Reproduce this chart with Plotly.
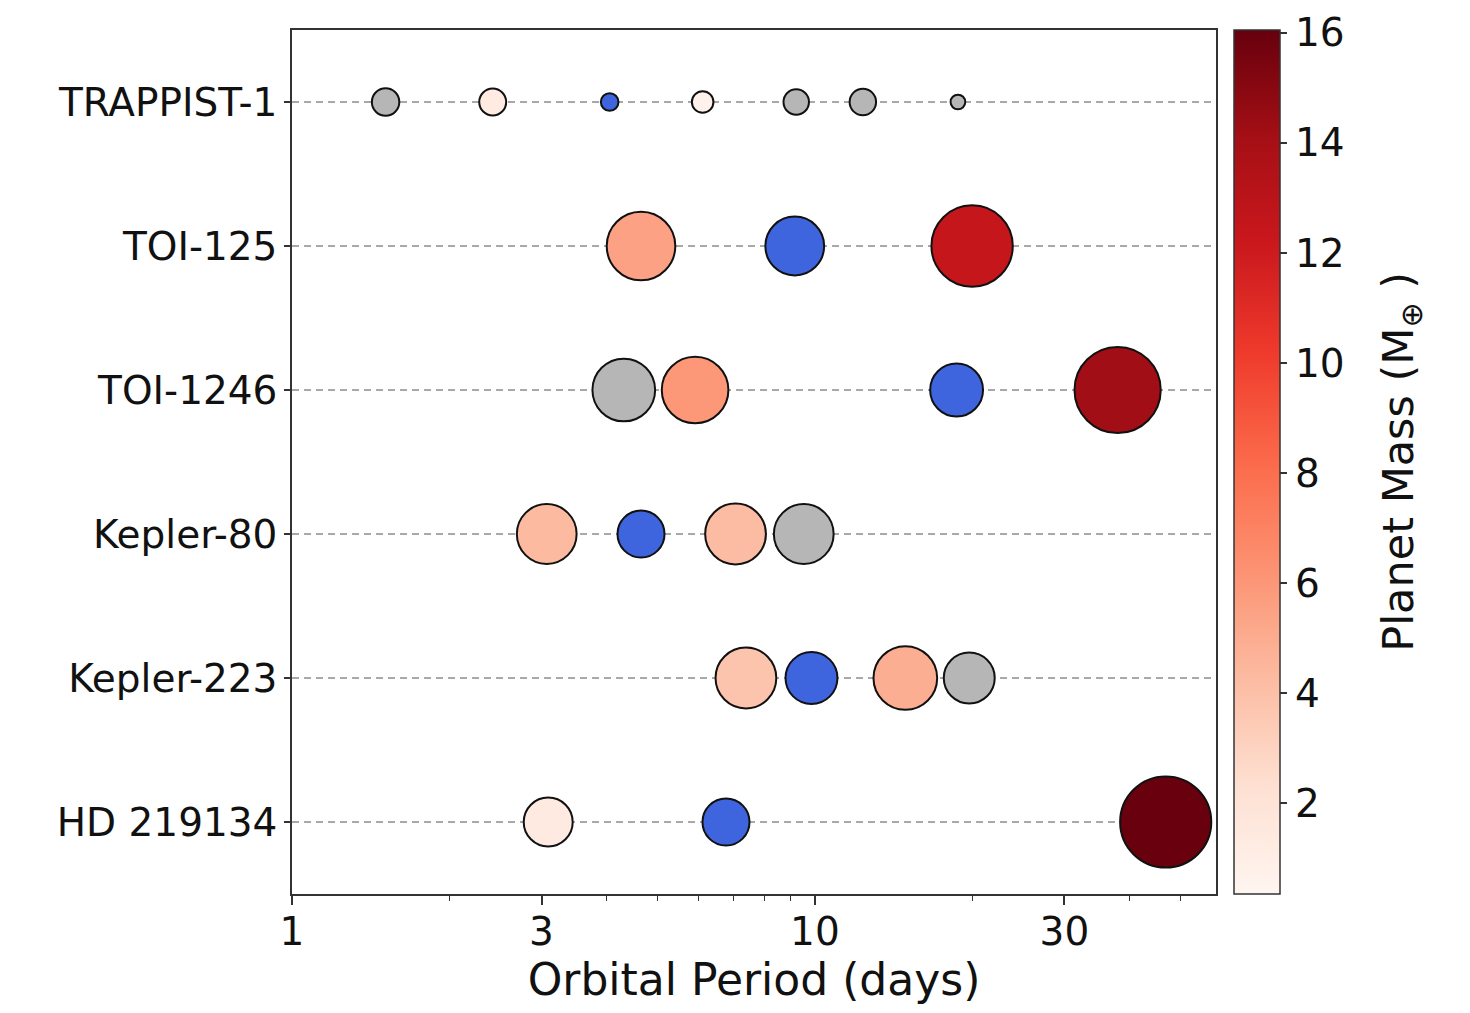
import plotly.graph_objects as go

# ---- data ----
systems = ["TRAPPIST-1", "TOI-125", "TOI-1246", "Kepler-80", "Kepler-223", "HD 219134"]

planet_system = (["TRAPPIST-1"] * 7 + ["TOI-125"] * 3 + ["TOI-1246"] * 4 +
                 ["Kepler-80"] * 4 + ["Kepler-223"] * 4 + ["HD 219134"] * 3)
period_days = [1.51, 2.42, 4.05, 6.10, 9.21, 12.35, 18.77,
               4.65, 9.15, 19.98,
               4.31, 5.90, 18.66, 37.92,
               3.07, 4.65, 7.05, 9.52,
               7.38, 9.85, 14.89, 19.73,
               3.09, 6.76, 46.86]
radius_earth = [1.12, 1.10, 0.72, 0.88, 1.04, 1.08, 0.60,
                2.80, 2.40, 3.32,
                2.56, 2.72, 2.16, 3.52,
                2.44, 1.92, 2.48, 2.44,
                2.48, 2.12, 2.60, 2.08,
                2.00, 1.92, 3.72]
mass_earth = [None, 1.3, None, 0.7, None, None, None,
              5.5, None, 12.5,
              None, 6.0, None, 14.2,
              4.3, None, 4.2, None,
              3.8, None, 4.9, None,
              1.4, None, 16.0]
# "hatched" = grey hatched marker, "blue" = blue marker, "mass" = coloured by mass
planet_kind = ["hatched", "mass", "blue", "mass", "hatched", "hatched", "hatched",
               "mass", "blue", "mass",
               "hatched", "mass", "blue", "mass",
               "mass", "blue", "mass", "hatched",
               "mass", "blue", "mass", "hatched",
               "mass", "blue", "mass"]

cbar_ticks = [2, 4, 6, 8, 10, 12, 14, 16]
x_ticks = [1, 3, 10, 30]
x_minor = [2, 4, 5, 6, 7, 8, 9, 20, 40, 50]

# ---- style ----
PX_PER_RADIUS = 24.5
FONT = "DejaVu Sans"
reds_mpl = [[0.0, "#fff5f0"], [0.125, "#fee0d2"], [0.25, "#fcbba1"], [0.375, "#fc9272"],
            [0.5, "#fb6a4a"], [0.625, "#ef3b2c"], [0.75, "#cb181d"], [0.875, "#a50f15"],
            [1.0, "#67000d"]]
EDGE = dict(color="#111111", width=2)


def subset(kind):
    idx = [i for i, k in enumerate(planet_kind) if k == kind]
    return ([period_days[i] for i in idx], [planet_system[i] for i in idx],
            [radius_earth[i] * PX_PER_RADIUS for i in idx], [mass_earth[i] for i in idx])


fig = go.Figure()

x, y, s, _ = subset("hatched")
fig.add_trace(go.Scatter(x=x, y=y, mode="markers", showlegend=False,
                         marker=dict(size=s, color="#b6b6b6", opacity=1, line=EDGE)))

x, y, s, _ = subset("blue")
fig.add_trace(go.Scatter(x=x, y=y, mode="markers", showlegend=False,
                         marker=dict(size=s, color="#3e65dd", opacity=1, line=EDGE)))

x, y, s, m = subset("mass")
fig.add_trace(go.Scatter(
    x=x, y=y, mode="markers", showlegend=False,
    marker=dict(size=s, color=m, colorscale=reds_mpl, cmin=0.35, cmax=16.05,
                opacity=1, line=EDGE,
                showscale=True,
                colorbar=dict(
                    x=1.0195, xanchor="left", xpad=0, y=0.5, yanchor="middle",
                    len=1, lenmode="fraction", ypad=0, thickness=46,
                    outlinecolor="#333333", outlinewidth=1.5,
                    tickvals=cbar_ticks, ticks="outside", ticklen=7, tickwidth=1.5,
                    tickcolor="#333333",
                    tickfont=dict(family=FONT, size=39, color="#111111"),
                ))))

# colour bar title
fig.add_annotation(
    text="Planet Mass (M<sub>⊕</sub> )", textangle=-90,
    xref="paper", yref="paper", x=1.2, y=0.5, xanchor="center", yanchor="middle",
    showarrow=False, font=dict(family=FONT, size=43, color="#111111"),
)

fig.update_xaxes(
    type="log", range=[0, 1.767],
    tickvals=x_ticks, ticktext=[str(v) for v in x_ticks],
    ticks="outside", ticklen=9, tickwidth=1.5, tickcolor="#333333",
    minor=dict(tickvals=x_minor, ticks="outside", ticklen=5, tickwidth=1, tickcolor="#333333"),
    showgrid=False, zeroline=False,
    showline=True, linecolor="#333333", linewidth=1.5, mirror=True,
    tickfont=dict(family=FONT, size=39, color="#111111"),
    ticklabelstandoff=-7,
    title=dict(text="Orbital Period (days)", standoff=8,
               font=dict(family=FONT, size=44, color="#111111")),
)
fig.update_yaxes(
    type="category", categoryorder="array", categoryarray=systems,
    range=[5.5, -0.5],
    ticks="outside", ticklen=6, tickwidth=1.5, tickcolor="#333333",
    showgrid=True, gridcolor="#a8a8a8", gridwidth=1.8, griddash="7px,5px",
    zeroline=False,
    showline=True, linecolor="#333333", linewidth=1.5, mirror=True,
    tickfont=dict(family=FONT, size=39, color="#111111"),
    ticklabelstandoff=-1,
)

fig.update_layout(
    width=1470, height=1013,
    margin=dict(l=292, r=254, t=30, b=119, pad=0),
    paper_bgcolor="white", plot_bgcolor="white",
    font=dict(family=FONT, color="#111111"),
)

fig.write_html("out.html", config={"displayModeBar": False},
               post_script="document.body.style.margin='0';")
